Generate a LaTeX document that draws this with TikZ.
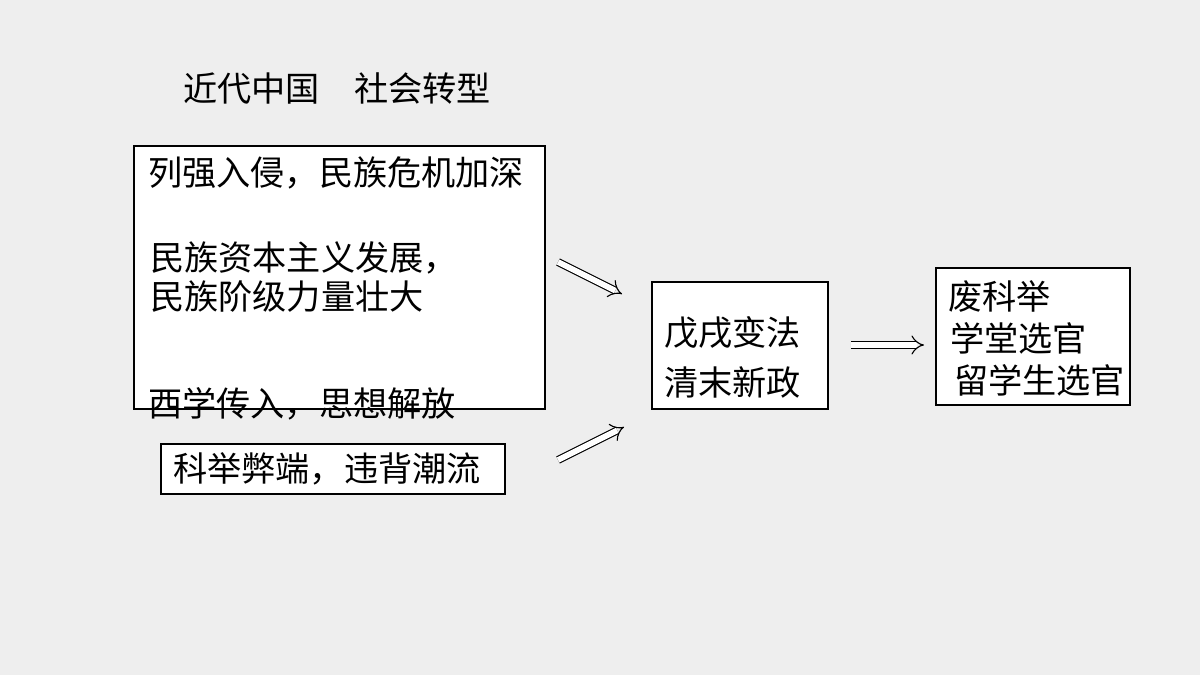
\documentclass[tikz,border=0pt]{standalone}
\usepackage{fontspec}
\newfontfamily\cjk{Noto Sans CJK SC}
\usetikzlibrary{arrows.meta,positioning}
\definecolor{bg}{HTML}{EEEEEE}
\begin{document}
\begin{tikzpicture}[
  x=0.025cm, y=-0.025cm,
  txt/.style={
    font=\cjk\fontsize{24.3}{28}\selectfont,
    text=black,
    inner sep=0pt,
    anchor=west
  },
  box/.style={
    rectangle,
    draw=black,
    fill=white,
    thick
  },
  implies/.style={
    double,
    double distance=4pt,
    thick,
    -{Implies}
  }
]

% Background
\fill[bg] (0,0) rectangle (1200,675);
\useasboundingbox (0,0) rectangle (1200,675);

% Title
\node[txt] (title) at (183,88) {近代中国\quad 社会转型};

% Left big box
\draw[box] (134,146) rectangle (545,409);
\node[txt] (invade) at (148,173) {列强入侵，民族危机加深};
\node[txt] (capital) at (150,258) {民族资本主义发展，};
\node[txt] (class) at (150,297) {民族阶级力量壮大};
\node[txt] (west) at (148,404) {西学传入，思想解放};

% Left small box
\draw[box] (161,444) rectangle (505,494);
\node[txt] (exam) at (173,469) {科举弊端，违背潮流};

% Middle box
\draw[box] (652,282) rectangle (828,409);
\node[txt] (reform) at (664,333) {戊戌变法};
\node[txt] (newpol) at (664,382) {清末新政};

% Right box
\draw[box] (936,268) rectangle (1130,405);
\node[txt] (abolish) at (948,296) {废科举};
\node[txt] (school) at (950,338) {学堂选官};
\node[txt] (abroad) at (954,380) {留学生选官};

% Arrows
\coordinate (a1s) at (558,262);
\coordinate (a1e) at (622,294);
\coordinate (a2s) at (558,460);
\coordinate (a2e) at (624,427);
\coordinate (a3s) at (851,345);
\coordinate (a3e) at (924,345);
\draw[implies] (a1s) -- (a1e);
\draw[implies] (a2s) -- (a2e);
\draw[implies] (a3s) -- (a3e);

\end{tikzpicture}
\end{document}
